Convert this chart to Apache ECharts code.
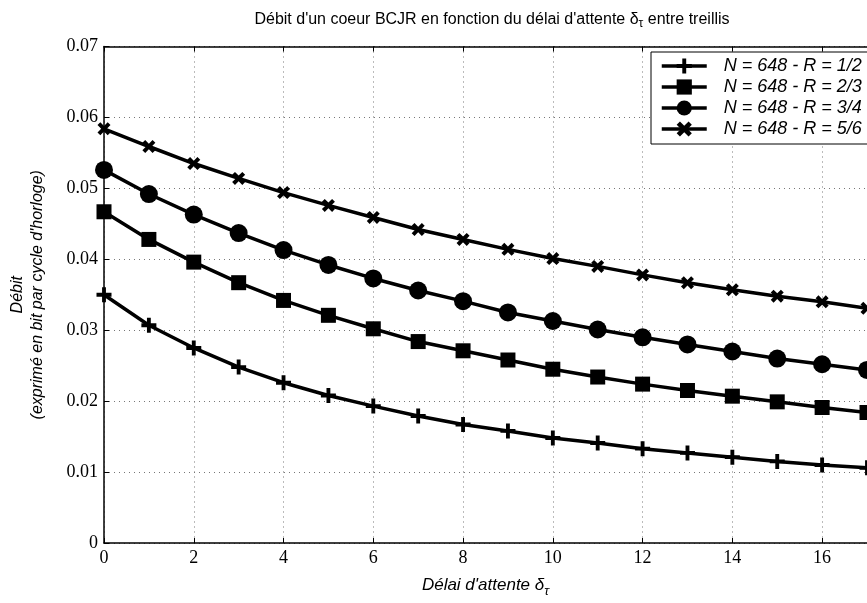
<!DOCTYPE html>
<html>
<head>
<meta charset="utf-8">
<script src="https://cdn.jsdelivr.net/npm/echarts@6/dist/echarts.min.js"></script>
<style>
html,body{margin:0;padding:0;background:#fff;}
#chart{width:867px;height:603px;}
</style>
</head>
<body>
<div id="chart"></div>
<script>
const delays = [0,1,2,3,4,5,6,7,8,9,10,11,12,13,14,15,16,17];
const seriesNames = ['N = 648 - R = 1/2','N = 648 - R = 2/3','N = 648 - R = 3/4','N = 648 - R = 5/6'];
const rate12 = [0.0350,0.0307,0.0275,0.0248,0.0226,0.0208,0.0193,0.0179,0.0167,0.0158,0.0148,0.0141,0.0133,0.0127,0.0121,0.0115,0.0110,0.0106];
const rate23 = [0.0467,0.0428,0.0396,0.0367,0.0342,0.0321,0.0302,0.0284,0.0271,0.0258,0.0245,0.0234,0.0224,0.0215,0.0207,0.0199,0.0191,0.0184];
const rate34 = [0.0526,0.0492,0.0463,0.0437,0.0413,0.0392,0.0373,0.0356,0.0341,0.0325,0.0313,0.0301,0.0290,0.0280,0.0270,0.0260,0.0252,0.0244];
const rate56 = [0.0584,0.0559,0.0535,0.0514,0.0494,0.0476,0.0459,0.0442,0.0428,0.0414,0.0401,0.0390,0.0378,0.0367,0.0357,0.0348,0.0340,0.0331];
const xTicks = {min:0, max:17, interval:2};
const yTicks = {min:0, max:0.07, interval:0.01};

const plusPath = 'path://M-1.8,-7 L1.8,-7 L1.8,-1.8 L7,-1.8 L7,1.8 L1.8,1.8 L1.8,7 L-1.8,7 L-1.8,1.8 L-7,1.8 L-7,-1.8 L-1.8,-1.8 Z';
const crossPath = 'path://M-6,-3.4 L-3.4,-6 L0,-2.6 L3.4,-6 L6,-3.4 L2.6,0 L6,3.4 L3.4,6 L0,2.6 L-3.4,6 L-6,3.4 L-2.6,0 Z';

const allData = [rate12, rate23, rate34, rate56];
const symbols = [plusPath, 'rect', 'circle', crossPath];
const sizes = [15, 15, 18, 13];

const chart = echarts.init(document.getElementById('chart'), null, {renderer:'canvas'});
const serif = 'Liberation Serif';
const sans = 'Liberation Sans';

const series = allData.map((vals, k) => ({
  name: seriesNames[k],
  type: 'line',
  xAxisIndex: 0,
  data: delays.map((d, i) => [d, vals[i]]),
  symbol: symbols[k],
  symbolSize: sizes[k],
  showAllSymbol: true,
  smooth: false,
  clip: true,
  lineStyle: {color:'#000', width:3.5},
  itemStyle: {color:'#000', borderWidth:0},
  emphasis: {disabled:true},
  animation: false
}));

const gridLine = {show:true, lineStyle:{color:'#777', width:1, type:[1,4]}};

chart.setOption({
  animation: false,
  backgroundColor: '#fff',
  title: {
    text: "Débit d'un coeur BCJR en fonction du délai d'attente δ{s|τ} entre treillis",
    left: 487,
    textAlign: 'center',
    top: 4,
    textStyle: {
      fontFamily: sans, fontSize: 16, fontWeight: 'normal', color: '#000',
      rich: {s: {fontFamily: sans, fontSize: 12, color:'#000', padding:[9,0,0,0]}}
    }
  },
  legend: {
    orient: 'vertical',
    left: 651,
    top: 52,
    padding: [5, 12, 6, 9],
    itemWidth: 45,
    itemHeight: 19,
    itemGap: 3,
    backgroundColor: '#fff',
    borderColor: '#000',
    borderWidth: 1,
    borderRadius: 0,
    selectedMode: false,
    data: seriesNames,
    lineStyle: {width: 3.5, color:'#000'},
    textStyle: {fontFamily: sans, fontStyle:'italic', fontSize: 18, color:'#000', padding:[0,0,0,12]}
  },
  grid: {left: 103.5, right: -5.75, top: 46.5, bottom: 57.4, containLabel: false},
  xAxis: [{
    type: 'value',
    position: 'bottom',
    min: xTicks.min, max: xTicks.max, interval: xTicks.interval,
    axisLine: {show:true, onZero:false, lineStyle:{color:'#000', width:1.5}},
    axisTick: {show:true, inside:true, length:5, lineStyle:{color:'#000', width:1}},
    axisLabel: {show:true, showMaxLabel:false, margin:6, fontFamily: serif, fontSize:18, color:'#000'},
    splitLine: gridLine,
    name: "Délai d'attente δ{s|τ}",
    nameLocation: 'middle',
    nameGap: 30,
    nameTextStyle: {
      fontFamily: sans, fontStyle:'italic', fontSize: 17, color:'#000',
      rich: {s: {fontFamily: sans, fontStyle:'italic', fontSize: 13, color:'#000', padding:[12,0,0,0]}}
    }
  }, {
    type: 'value',
    position: 'top',
    min: xTicks.min, max: xTicks.max, interval: xTicks.interval,
    axisLine: {show:true, onZero:false, lineStyle:{color:'#000', width:1.5}},
    axisTick: {show:true, inside:true, length:5, lineStyle:{color:'#000', width:1}},
    axisLabel: {show:false},
    splitLine: {show:false}
  }],
  yAxis: {
    type: 'value',
    min: yTicks.min, max: yTicks.max, interval: yTicks.interval,
    axisLine: {show:true, onZero:false, lineStyle:{color:'#000', width:1.5}},
    axisTick: {show:true, inside:true, length:5, lineStyle:{color:'#000', width:1}},
    axisLabel: {margin:6, fontFamily: serif, fontSize:18, color:'#000',
      formatter: v => v === 0 ? '0' : v.toFixed(2)},
    splitLine: gridLine,
    name: "Débit\n(exprimé en bit par cycle d'horloge)",
    nameLocation: 'middle',
    nameGap: 56,
    nameTextStyle: {fontFamily: sans, fontStyle:'italic', fontSize: 16, color:'#000', lineHeight: 20}
  },
  series: series
});
</script>
</body>
</html>
